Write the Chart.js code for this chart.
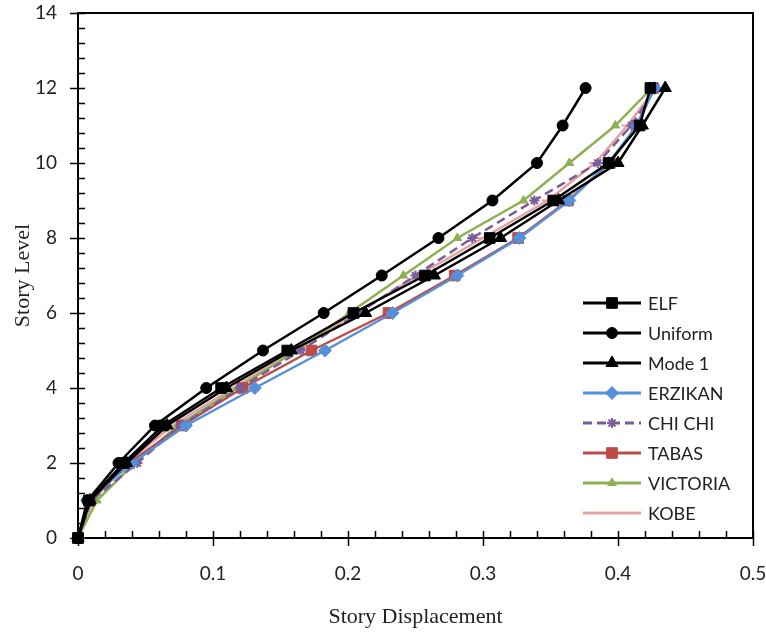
<!DOCTYPE html>
<html>
<head>
<meta charset="utf-8">
<script src="https://cdn.jsdelivr.net/npm/chart.js@4.4.0/dist/chart.umd.min.js"></script>
<style>
    body { margin: 0; background: #fff; }
</style>
</head>
<body>
<canvas id="driftChart" width="766" height="633"></canvas>
<script>
// story levels (y) and displacement of each series (x)
const levels   = [0, 1, 2, 3, 4, 5, 6, 7, 8, 9, 10, 11, 12];
const elf      = [0, 0.008, 0.034, 0.063, 0.106, 0.155, 0.204, 0.257, 0.305, 0.352, 0.393, 0.416, 0.424];
const uniform  = [0, 0.007, 0.030, 0.057, 0.095, 0.137, 0.182, 0.225, 0.267, 0.307, 0.340, 0.359, 0.376];
const mode1    = [0, 0.009, 0.036, 0.066, 0.110, 0.158, 0.213, 0.264, 0.313, 0.356, 0.400, 0.418, 0.435];
const erzikan  = [0, 0.007, 0.040, 0.080, 0.131, 0.183, 0.233, 0.281, 0.327, 0.364, 0.393, 0.414, 0.427];
const chichi   = [0, 0.010, 0.044, 0.076, 0.120, 0.165, 0.208, 0.250, 0.292, 0.338, 0.385, 0.410, 0.428];
const tabas    = [0, 0.009, 0.038, 0.077, 0.122, 0.173, 0.230, 0.279, 0.326, 0.363, 0.394, 0.414, 0.426];
const victoria = [0, 0.014, 0.042, 0.074, 0.118, 0.162, 0.201, 0.241, 0.281, 0.330, 0.364, 0.398, 0.425];
const kobe     = [0, 0.011, 0.036, 0.070, 0.115, 0.160, 0.206, 0.252, 0.300, 0.348, 0.383, 0.407, 0.428];

const seriesNames = ['ELF', 'Uniform', 'Mode 1', 'ERZIKAN', 'CHI CHI', 'TABAS', 'VICTORIA', 'KOBE'];
const seriesData  = [elf, uniform, mode1, erzikan, chichi, tabas, victoria, kobe];

const styles = [
    { color: '#000000', point: 'rect',     radius: 7.5 },
    { color: '#000000', point: 'circle',   radius: 5.5 },
    { color: '#000000', point: 'triangle', radius: 7 },
    { color: '#5590D8', point: 'rectRot',  radius: 6.5 },
    { color: '#7A5C99', point: 'star',     radius: 5, dash: [9, 5] },
    { color: '#BE4B48', point: 'rect',     radius: 7.5 },
    { color: '#8DB152', point: 'triangle', radius: 5 },
    { color: '#E2A3A2', point: 'line',     radius: 6 }
];

const datasets = seriesNames.map((name, i) => ({
    label: name,
    data: seriesData[i].map((x, k) => ({ x: x, y: levels[k] })),
    showLine: true,
    borderColor: styles[i].color,
    backgroundColor: styles[i].color,
    borderWidth: 2.5,
    borderDash: styles[i].dash || [],
    pointStyle: styles[i].point,
    pointRadius: styles[i].radius,
    pointBorderWidth: styles[i].point === 'star' || styles[i].point === 'line' ? 2 : 1,
    pointHoverRadius: styles[i].radius,
    clip: false
}));

// frame and tick marks like the original (major ticks cross, minor ticks inside)
const frame = {
    id: 'frame',
    beforeDatasetsDraw(chart) {
        const { ctx, chartArea: a, scales: { x, y } } = chart;
        ctx.save();
        ctx.strokeStyle = '#000';
        ctx.lineWidth = 2;
        ctx.strokeRect(a.left, a.top, a.right - a.left, a.bottom - a.top);
        ctx.lineWidth = 1.5;
        ctx.beginPath();
        for (let v = 0; v <= 14.001; v += 0.4) {
            const py = Math.round(y.getPixelForValue(v)) + 0.5;
            const major = Math.abs(v / 2 - Math.round(v / 2)) < 0.01;
            ctx.moveTo(a.left - (major ? 8 : 0), py);
            ctx.lineTo(a.left + 7, py);
        }
        for (let v = 0; v <= 0.5001; v += 0.02) {
            const px = Math.round(x.getPixelForValue(v)) + 0.5;
            const major = Math.abs(v * 10 - Math.round(v * 10)) < 0.01;
            ctx.moveTo(px, a.bottom + (major ? 8 : 0));
            ctx.lineTo(px, a.bottom - 7);
        }
        ctx.stroke();
        ctx.restore();
    },
    afterDraw(chart) {
        const ctx = chart.ctx;
        ctx.save();
        chart.data.datasets.forEach((ds, i) => {
            const yy = 303 + i * 30;
            ctx.strokeStyle = ds.borderColor;
            ctx.fillStyle = ds.backgroundColor;
            ctx.lineWidth = 3;
            ctx.setLineDash(ds.borderDash);
            ctx.beginPath();
            ctx.moveTo(583, yy);
            ctx.lineTo(641, yy);
            ctx.stroke();
            ctx.setLineDash([]);
            ctx.lineWidth = ds.pointBorderWidth;
            Chart.helpers.drawPoint(ctx, {
                pointStyle: ds.pointStyle, radius: ds.pointRadius, rotation: 0, borderWidth: ds.pointBorderWidth
            }, 612, yy);
            ctx.fillStyle = '#222';
            ctx.font = '18px Lato';
            ctx.textBaseline = 'middle';
            ctx.fillText(ds.label, 648, yy + 1);
        });
        ctx.restore();
    }
};

new Chart(document.getElementById('driftChart'), {
    type: 'scatter',
    data: { datasets: datasets },
    options: {
        responsive: false,
        animation: false,
        layout: { padding: { top: 13, right: 13, left: 0, bottom: 0 } },
        plugins: { legend: { display: false }, tooltip: { enabled: false } },
        scales: {
            x: {
                min: 0, max: 0.5,
                ticks: { stepSize: 0.1, padding: 24, color: '#222', font: { family: 'Lato', size: 19 } },
                grid: { display: false, drawTicks: false },
                border: { display: false },
                title: { display: true, text: 'Story Displacement', color: '#222',
                         font: { family: 'Liberation Serif', size: 22 }, padding: { top: 0, bottom: 3 } },
                afterFit(scale) { scale.height = 95; scale.paddingLeft = 0; scale.paddingRight = 0; }
            },
            y: {
                min: 0, max: 14,
                ticks: { stepSize: 2, padding: 21, color: '#222', font: { family: 'Lato', size: 19 } },
                grid: { display: false, drawTicks: false },
                border: { display: false },
                title: { display: true, text: 'Story Level', color: '#222',
                         font: { family: 'Liberation Serif', size: 22 }, padding: { top: 10, bottom: 10 } },
                afterFit(scale) { scale.width = 78; scale.paddingTop = 0; scale.paddingBottom = 0; }
            }
        }
    },
    plugins: [frame]
});
</script>
</body>
</html>
